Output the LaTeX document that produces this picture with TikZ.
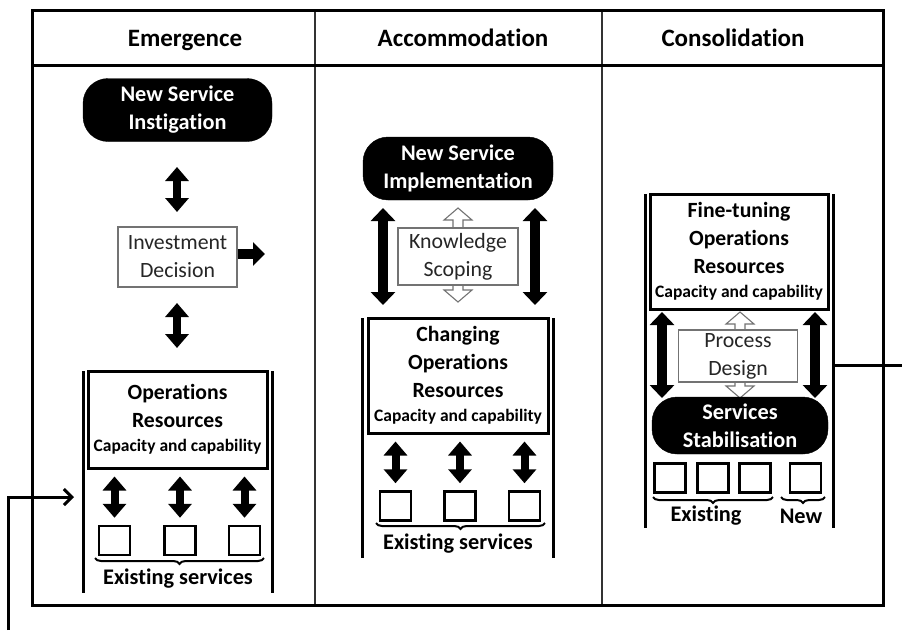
\documentclass[tikz,border=0pt]{standalone}
\usepackage{fontspec}
\setmainfont{Carlito}[Ligatures=NoCommon]
\usetikzlibrary{arrows.meta,calc,decorations.pathreplacing}

\tikzset{
  frameline/.style={line width=3pt, black},
  divider/.style={line width=1.2pt, black!80},
  heading/.style={anchor=base, font=\fontsize{25}{28}\selectfont\bfseries},
  blacknode/.style={fill=black, draw=black, rounded corners=25pt, text=white,
    align=center, font=\fontsize{22.3}{28}\selectfont\bfseries, inner sep=0pt},
  greybox/.style={draw=black!55, line width=1.1pt, fill=white, text=black!85,
    align=center, font=\fontsize{21.8}{28}\selectfont, inner sep=0pt},
  resbox/.style={draw=black, line width=3pt, fill=white, align=center,
    font=\fontsize{21.7}{28}\selectfont\bfseries, inner sep=0pt},
  sidebar/.style={line width=3pt, black},
  servbox/.style={draw=black, line width=2.5pt, minimum width=31pt, minimum height=29pt, inner sep=0pt},
  dblarrow/.style={line width=8pt, {Triangle[length=14pt,width=23pt]}-{Triangle[length=14pt,width=23pt]}},
  bigdblarrow/.style={line width=10pt, {Triangle[length=13pt,width=24pt]}-{Triangle[length=13pt,width=24pt]}},
  hollow/.style={draw=black!55, line width=1.1pt, fill=white},
  bracebar/.style={line width=2pt, decorate, decoration={brace, amplitude=6pt, mirror}},
  label/.style={font=\fontsize{22.3}{26}\selectfont\bfseries},
  feedback/.style={line width=3pt, black},
}

% hollow two-headed arrow: x, top tip, bottom tip
\newcommand\hollowdarrow[3]{%
  \draw[hollow] (#1,#2) -- ({#1+14},{#2+12}) -- ({#1+5},{#2+12}) -- ({#1+5},{#3-12})
    -- ({#1+14},{#3-12}) -- (#1,#3) -- ({#1-14},{#3-12}) -- ({#1-5},{#3-12})
    -- ({#1-5},{#2+12}) -- ({#1-14},{#2+12}) -- cycle;}

\newcommand\capline{\\[-4pt]{\fontsize{17.5}{20}\selectfont Capacity and capability}}

\begin{document}
\begin{tikzpicture}[x=1pt, y=-1pt]
\useasboundingbox (0,0) rectangle (902,630);
\fill[white] (0,0) rectangle (902,630);

% table frame
\draw[divider] (315,10) -- (315,605);
\draw[divider] (602,10) -- (602,605);
\draw[frameline] (32,65) -- (883,65);
\draw[frameline] (32,10) rectangle (883,605);

\node[heading] (h1) at (185,46) {Emergence};
\node[heading] (h2) at (463,46) {Accommodation};
\node[heading] (h3) at (733,46) {Consolidation};

% ---------------- Emergence ----------------
\node[blacknode, minimum width=189pt, minimum height=63pt] (nsi) at (177.5,110) {New Service\\Instigation};
\node[greybox, minimum width=119pt, minimum height=60pt] (inv) at (177.5,257) {Investment\\Decision};
\draw[sidebar] (83,371) -- (83,593);
\draw[sidebar] (272,371) -- (272,593);
\node[resbox, minimum width=179pt, minimum height=97pt] (ops1) at (177.5,419.5)
  {Operations\\Resources\capline};

\draw[dblarrow] (177,167) -- (177,212);
\draw[dblarrow] (177,303) -- (177,348);
\coordinate (invout) at (265,254);
\draw[line width=10pt, -{Triangle[length=12pt,width=23pt]}] (inv.east |- invout) -- (invout);

\node[servbox] (e1) at (114.5,540.5) {};
\node[servbox] (e2) at (180,540.5) {};
\node[servbox] (e3) at (244.5,540.5) {};
\foreach \s in {e1,e2,e3}
  \draw[dblarrow] ($(\s.north |- ops1.south)+(0,7)$) -- ($(\s.north)+(0,-7)$);
\draw[bracebar] (95,558) -- (264,558);
\node[label] (ex1) at (178,579) {Existing services};

% ---------------- Accommodation ----------------
\node[blacknode, minimum width=190pt, minimum height=63pt] (nsimp) at (458,168.5) {New Service\\Implementation};
\hollowdarrow{458}{208}{302}
\node[greybox, minimum width=120pt, minimum height=57pt] (ks) at (458,256.5) {Knowledge\\Scoping};
\draw[bigdblarrow] (383,208) -- (383,305);
\draw[bigdblarrow] (535,208) -- (535,305);
\draw[sidebar] (362,318) -- (362,558);
\draw[sidebar] (553,318) -- (553,558);
\node[resbox, minimum width=180pt, minimum height=115pt] (ops2) at (458,375.5)
  {Changing\\Operations\\Resources\capline};
\node[servbox] (a1) at (395.5,506) {};
\node[servbox] (a2) at (460,506) {};
\node[servbox] (a3) at (524.5,506) {};
\foreach \s in {a1,a2,a3}
  \draw[dblarrow] ($(\s.north |- ops2.south)+(0,7)$) -- ($(\s.north)+(0,-7)$);
\draw[bracebar] (376,523) -- (545,523);
\node[label] (ex2) at (458,544) {Existing services};

% ---------------- Consolidation ----------------
\draw[sidebar] (645,194) -- (645,528);
\draw[sidebar] (833,194) -- (833,528);
\node[resbox, minimum width=178pt, minimum height=115pt] (ops3) at (739,251.5)
  {Fine-tuning\\Operations\\Resources\capline};
\hollowdarrow{740}{312}{398}
\node[greybox, minimum width=119pt, minimum height=52pt] (pd) at (738,356) {Process\\Design};
\node[blacknode, minimum width=176pt, minimum height=57pt] (ss) at (740,425.5) {Services\\Stabilisation};
\draw[bigdblarrow] (662,312) -- (662,398);
\draw[bigdblarrow] (815,312) -- (815,398);
\node[servbox] (c1) at (670,478) {};
\node[servbox] (c2) at (713,478) {};
\node[servbox] (c3) at (755,478) {};
\node[servbox] (c4) at (805.5,478) {};
\draw[bracebar] (653,497) -- (773,497);
\draw[bracebar] (781,497) -- (825,497);
\node[label] (exc) at (706,516) {Existing};
\node[label] (newc) at (801,516) {New};

% ---------------- feedback loop ----------------
\coordinate (fbstart) at (833,365);
\coordinate (fbend) at (902,365);
\coordinate (fbin) at (8,630);
\coordinate (fbturn) at (8,497);
\coordinate (fbtip) at (74,497);
\draw[feedback] (fbstart) -- (fbend);
\draw[feedback, -{Straight Barb[length=8pt,width=16pt,line width=3pt]}] (fbin) -- (fbturn) -- (fbtip);
\end{tikzpicture}
\end{document}
